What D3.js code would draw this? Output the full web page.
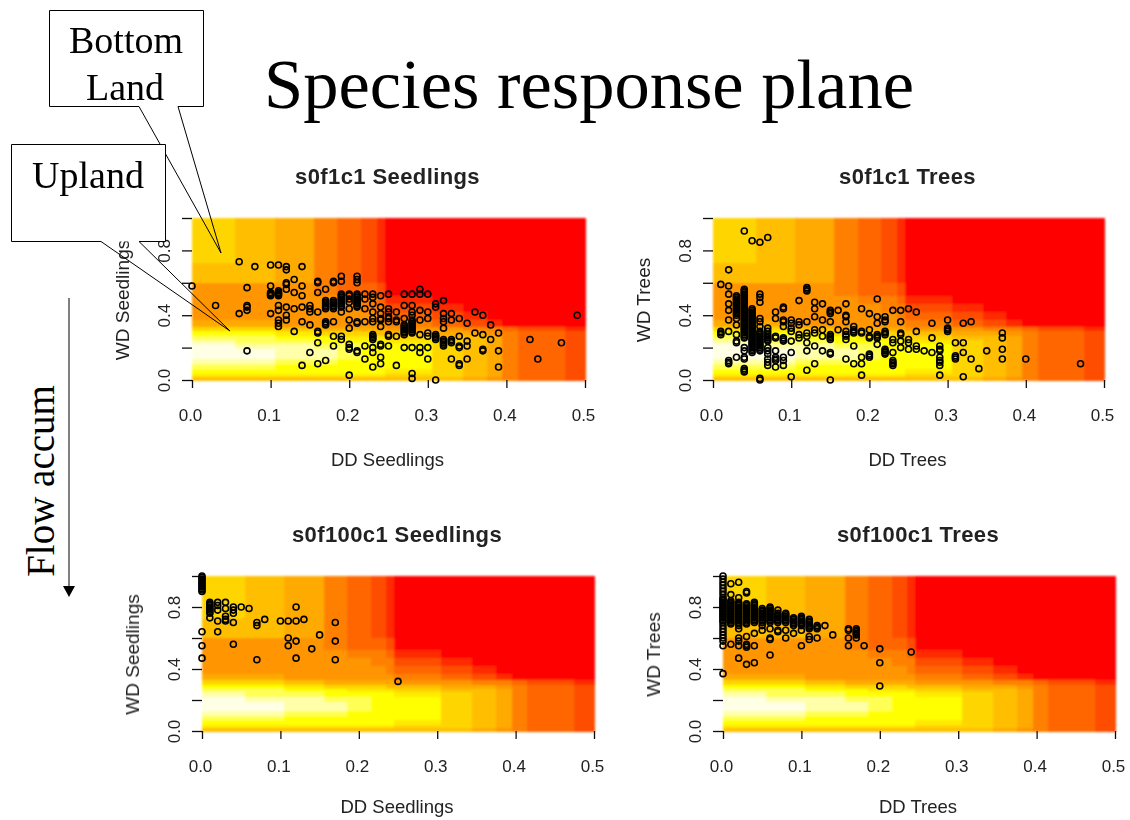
<!DOCTYPE html>
<html>
<head>
<meta charset="utf-8">
<script src="https://d3js.org/d3.v7.min.js"></script>
<style>
    html, body { margin: 0; background: #fff; }
    svg { display: block; }
    text { font-family: "Liberation Sans", Arial, sans-serif; fill: #222; }
    .serif { font-family: "Liberation Serif", "Times New Roman", serif; fill: #000; }
</style>
</head>
<body>
<div id="main"></div>
<script>
    // points, grouped as [DD, [WD, WD, ...]]
    var seedlingsF1 = [
        [0, [.58]], [.03, [.46]], [.06, [.73, .41]], [.07, [.57, .46, .45, .43, .18]], [.08, [.70]],
        [.10, [.71, .58, .54, .535, .53, .525, .52, .41]], [.11, [.71, .55, .54, .535, .53, .525, .52, .46, .43, .37, .35, .33]],
        [.12, [.70, .68, .60, .59, .56, .45, .40, .37]], [.13, [.62, .54, .44, .30]],
        [.14, [.70, .58, .52, .45, .36, .09]], [.15, [.46, .44, .42, .34, .17]],
        [.16, [.61, .60, .54, .42, .30, .29, .23, .10]], [.17, [.56, .49, .48, .47, .46, .45, .44, .36, .35, .34, .12]],
        [.18, [.61, .60, .49, .48, .47, .46, .45, .44, .36, .27, .21]],
        [.19, [.64, .61, .53, .52, .51, .50, .49, .48, .47, .46, .45, .42, .27, .25]],
        [.20, [.53, .52, .50, .48, .44, .37, .32, .22, .20, .19, .03]],
        [.21, [.64, .62, .60, .53, .52, .51, .50, .49, .48, .47, .46, .45, .36, .35, .18, .17]],
        [.22, [.53, .50, .44, .36, .21, .13]],
        [.23, [.53, .51, .47, .42, .38, .36, .28, .27, .26, .25, .20, .17, .08]],
        [.24, [.52, .45, .41, .38, .37, .33, .22, .21, .14, .10]],
        [.25, [.53, .44, .42, .39, .38, .36, .28, .27, .21]], [.26, [.42, .37, .36, .27, .09]],
        [.27, [.53, .46, .38, .34, .33, .32, .31, .30, .29, .28, .20]],
        [.28, [.53, .46, .42, .40, .37, .36, .35, .34, .33, .32, .31, .30, .29, .20, .04, .01]],
        [.29, [.56, .53, .43, .37, .28, .20, .17]], [.30, [.53, .42, .38, .29, .27, .20, .13]],
        [.31, [.47, .45, .28, .27, .26, .25, 0]], [.32, [.49, .41, .38, .36, .32, .25, .24, .23, .22, .21]],
        [.33, [.41, .37, .25, .24, .23, .13]], [.34, [.38, .27, .21, .20, .10, .09]],
        [.35, [.35, .24, .21, .13]], [.36, [.42, .29]], [.37, [.40, .28, .19, .18]], [.38, [.34, .25]],
        [.39, [.29, .18, .08]], [.43, [.25]], [.44, [.13]], [.47, [.23]], [.49, [.40]]
    ];
    var treesF1 = [
        [.01, [.59, .30, .29, .28]], [.02, [.68, .58, .53, .47, .43, .37, .30, .12, .11, .10]],
        [.03, [.52, .51, .50, .49, .48, .47, .46, .45, .44, .43, .42, .41, .40, .38, .34, .28, .24, .23, .14]],
        [.04, [.92, .56, .55, .54, .53, .52, .51, .50, .49, .48, .47, .46, .45, .44, .43, .42, .41, .40, .39, .38, .37, .36, .35, .34, .33, .32, .31, .30, .29, .28, .27, .26, .20, .18, .14, .13, .07, .06, .05]],
        [.05, [.86, .44, .43, .42, .41, .40, .39, .38, .37, .36, .35, .34, .33, .32, .31, .30, .29, .28, .27, .26, .25, .24, .23, .22, .21, .20, .19, .18, .17]],
        [.06, [.85, .53, .51, .48, .38, .36, .33, .30, .29, .28, .27, .26, .25, .24, .23, .22, .21, .20, .19, .18, .01, 0]],
        [.07, [.88, .32, .30, .28, .27, .26, .25, .24, .20, .18, .16, .13, .11, .09]],
        [.08, [.42, .38, .27, .26, .18, .14, .13, .12, .08]],
        [.09, [.45, .44, .37, .36, .33, .26, .25, .24, .14, .12, .09]],
        [.10, [.37, .35, .32, .30, .24, .17, .02]], [.11, [.49, .36, .34, .28, .26]],
        [.12, [.57, .56, .55, .36, .29, .27, .23, .18, .06]], [.13, [.48, .44, .39, .31, .29, .21, .10]],
        [.14, [.47, .37, .31, .27, .18]], [.15, [.43, .42, .41, .36, .28, .27, .26, .25, .17, .16, 0]],
        [.16, [.43, .31]], [.17, [.47, .40, .39, .36, .30, .28, .27, .25, .13]],
        [.18, [.33, .31, .30, .29, .21, .10]], [.19, [.44, .30, .29, .14, .10, .03]],
        [.20, [.41, .31, .27, .26, .16, .15, .14]], [.21, [.50, .39, .35, .28, .27, .26, .22]],
        [.22, [.39, .37, .36, .30, .29, .28, .19, .18, .17, .16]],
        [.23, [.43, .25, .23, .17, .12, .11, .10, .09]], [.24, [.43, .36, .29, .28, .24, .20]],
        [.25, [.44, .25, .23, .19]], [.26, [.42, .30, .21, .19]], [.27, [.18]], [.28, [.35, .26, .17]],
        [.29, [.21, .19, .18, .14, .12, .11, .09, .03]], [.30, [.37, .32, .31, .30]],
        [.31, [.23, .15, .14, .13]], [.32, [.35, .23, .17, .02]], [.33, [.36, .13]], [.34, [.07]],
        [.35, [.18]], [.37, [.29, .26, .19, .13]], [.40, [.13]], [.47, [.10]]
    ];
    var seedlingsF100 = [
        [0, [1, .99, .98, .97, .96, .95, .94, .93, .92, .91, .90, .64, .55, .47]],
        [.01, [.83, .82, .81, .80, .79, .78, .77, .76, .73]], [.02, [.83, .81, .78, .71, .64]],
        [.03, [.83, .79, .74, .72, .71]], [.04, [.80, .78, .76, .70, .56]], [.05, [.80]], [.06, [.79]],
        [.07, [.70, .68, .46]], [.08, [.72]], [.10, [.71]], [.11, [.71, .60, .55]],
        [.12, [.80, .71, .58, .47]], [.13, [.72]], [.14, [.53]], [.15, [.62]], [.17, [.70, .58, .46]], [.25, [.32]]
    ];
    var treesF100 = [
        [0, [1, .98, .96, .94, .92, .90, .88, .86, .85, .84, .83, .82, .81, .80, .79, .78, .77, .76, .75, .74, .73, .72, .71, .70, .68, .66, .64, .62, .60, .58, .55, .37]],
        [.01, [.95, .88, .84, .83, .82, .81, .80, .79, .78, .77, .76, .75, .74, .73, .72, .71, .70, .69, .56]],
        [.02, [.96, .86, .83, .82, .81, .80, .79, .78, .77, .76, .75, .74, .73, .72, .71, .70, .69, .68, .66, .60, .58, .55, .47]],
        [.03, [.90, .89, .82, .81, .80, .79, .78, .77, .76, .75, .74, .73, .72, .71, .70, .69, .61, .56, .55, .54, .43]],
        [.04, [.83, .82, .81, .80, .79, .78, .77, .76, .75, .74, .73, .72, .71, .70, .63, .55, .44]],
        [.05, [.79, .78, .77, .76, .75, .74, .73, .72, .71, .70, .68, .65]],
        [.06, [.80, .79, .78, .77, .76, .75, .74, .73, .72, .71, .70, .66, .60, .59, .49]],
        [.07, [.78, .76, .75, .74, .73, .72, .71, .70, .65, .64]], [.08, [.76, .75, .74, .73, .72, .71, .70, .65, .60]],
        [.09, [.73, .72, .71, .70, .69, .68, .63]], [.10, [.74, .73, .72, .71, .70, .69, .68, .65, .55]],
        [.11, [.72, .71, .70, .69, .68, .67, .66, .61, .59]], [.12, [.68, .67, .66, .60]], [.13, [.68]], [.14, [.62]],
        [.16, [.66, .65, .60, .55]], [.17, [.66, .65, .64, .63, .62, .60]], [.18, [.55]],
        [.20, [.53, .44, .29]], [.24, [.51]]
    ];

    // the response surface behind every panel, read as blocks of colour levels
    var heatColors = ["#FF0000", "#FF2B00", "#FF4D00", "#FF6600", "#FF8000", "#FF9500", "#FFAA00",
        "#FFBF00", "#FFD500", "#FFEA00", "#FFFF00", "#FFFF55", "#FFFFAA", "#FFFFE6"];
    var heatXBreaks = [0, .055, .105, .155, .185, .215, .235, .245, .305, .345, .375, .395, .415, .475, .5];
    var heatYBreaks = [1, .72, .60, .52, .47, .42, .37, .33, .30, .27, .25, .22, .19, .13, .10, .07, .04, .02, 0];
    var heatLevels = [
        [8, 7, 6, 4, 3, 2, 1, 0, 0, 0, 0, 0, 0, 0],
        [7, 7, 6, 4, 3, 2, 1, 0, 0, 0, 0, 0, 0, 0],
        [5, 5, 5, 4, 3, 3, 2, 0, 0, 0, 0, 0, 0, 0],
        [5, 5, 5, 5, 4, 4, 3, 1, 0, 0, 0, 0, 0, 0],
        [5, 5, 5, 5, 5, 4, 4, 2, 1, 0, 0, 0, 0, 0],
        [5, 5, 5, 5, 5, 5, 4, 3, 2, 1, 0, 0, 0, 0],
        [6, 6, 5, 5, 5, 5, 5, 4, 3, 2, 1, 0, 0, 0],
        [8, 8, 7, 6, 6, 6, 6, 5, 5, 4, 4, 3, 2, 1],
        [10, 10, 9, 8, 8, 8, 7, 7, 6, 6, 5, 4, 3, 2],
        [11, 11, 10, 10, 9, 9, 9, 8, 7, 7, 6, 4, 3, 2],
        [12, 11, 11, 10, 10, 10, 10, 9, 8, 7, 6, 4, 3, 2],
        [13, 12, 12, 11, 11, 10, 10, 10, 8, 7, 6, 4, 3, 2],
        [13, 13, 12, 12, 11, 10, 10, 10, 8, 7, 6, 4, 3, 2],
        [12, 12, 11, 11, 10, 10, 10, 10, 8, 7, 6, 4, 3, 2],
        [11, 11, 10, 10, 10, 10, 10, 10, 8, 7, 6, 4, 3, 2],
        [10, 10, 10, 10, 10, 10, 10, 9, 8, 7, 6, 4, 3, 2],
        [9, 9, 9, 9, 9, 9, 9, 8, 8, 7, 6, 4, 3, 2],
        [7, 7, 7, 7, 7, 7, 7, 7, 7, 6, 5, 4, 3, 2]
    ];

    var xTicks = [0, .1, .2, .3, .4, .5];
    var yTicks = [0, .2, .4, .6, .8, 1];
    var yLabelled = [0, .4, .8];

    var panels = [
        { title: "s0f1c1 Seedlings", xLabel: "DD Seedlings", yLabel: "WD Seedlings", points: seedlingsF1, left: 192, right: 585, top: 218, bottom: 380, xLabelGap: 86 },
        { title: "s0f1c1 Trees", xLabel: "DD Trees", yLabel: "WD Trees", points: treesF1, left: 713, right: 1104, top: 218, bottom: 380, xLabelGap: 86 },
        { title: "s0f100c1 Seedlings", xLabel: "DD Seedlings", yLabel: "WD Seedlings", points: seedlingsF100, left: 202, right: 594, top: 576, bottom: 731, xLabelGap: 82 },
        { title: "s0f100c1 Trees", xLabel: "DD Trees", yLabel: "WD Trees", points: treesF100, left: 723, right: 1115, top: 576, bottom: 731, xLabelGap: 82 }
    ];

    var svg = d3.select("#main")
        .append("svg")
        .attr("width", 1130)
        .attr("height", 820);

    // the source is a low res capture, so soften the plots a little
    var defs = svg.append("defs");
    defs.append("filter").attr("id", "soft")
        .attr("x", "-5%").attr("y", "-5%").attr("width", "110%").attr("height", "110%")
        .append("feGaussianBlur").attr("stdDeviation", 0.55);
    defs.append("filter").attr("id", "softer")
        .attr("x", "-2%").attr("y", "-2%").attr("width", "104%").attr("height", "104%")
        .append("feGaussianBlur").attr("stdDeviation", 1);

    panels.forEach(function (p) {
        var x = d3.scaleLinear().domain([0, .5]).range([p.left, p.right]);
        var y = d3.scaleLinear().domain([0, 1]).range([p.bottom, p.top]);
        var g = svg.append("g").attr("filter", "url(#soft)");

        // heat blocks
        var cells = [];
        heatLevels.forEach(function (row, r) {
            row.forEach(function (level, c) {
                cells.push({ r: r, c: c, level: level });
            });
        });
        svg.insert("g", "g").attr("filter", "url(#softer)")
            .attr("shape-rendering", "crispEdges")
            .selectAll("rect")
            .data(cells)
            .enter()
            .append("rect")
            .attr("x", function (d) { return x(heatXBreaks[d.c]); })
            .attr("y", function (d) { return y(heatYBreaks[d.r]); })
            .attr("width", function (d) { return x(heatXBreaks[d.c + 1]) - x(heatXBreaks[d.c]) + .5; })
            .attr("height", function (d) { return y(heatYBreaks[d.r + 1]) - y(heatYBreaks[d.r]) + .5; })
            .style("fill", function (d) { return heatColors[d.level]; });

        // axes, R style: no domain line showing, y labels turned and thinned out
        var xAxis = g.append("g")
            .attr("transform", "translate(0," + p.bottom + ")")
            .call(d3.axisBottom(x).tickValues(xTicks).tickSize(8).tickFormat(d3.format(".1f")));
        xAxis.select(".domain").remove();
        xAxis.selectAll("text")
            .attr("dy", 0).attr("y", 41).attr("dx", -2)
            .style("font-size", "17px");

        var yAxis = g.append("g")
            .attr("transform", "translate(" + p.left + ",0)")
            .call(d3.axisLeft(y).tickValues(yTicks).tickSize(10).tickFormat(function (d) {
                return yLabelled.indexOf(d) >= 0 ? d3.format(".1f")(d) : "";
            }));
        yAxis.select(".domain").remove();
        yAxis.selectAll("text")
            .attr("x", null).attr("dy", 0)
            .attr("transform", "translate(-22,0) rotate(-90)")
            .style("text-anchor", "middle")
            .style("font-size", "17px");
        g.selectAll(".tick line").attr("stroke", "#111").attr("stroke-width", 1.3);

        // points
        g.append("g")
            .selectAll("circle")
            .data(p.points.flatMap(function (col) {
                return col[1].map(function (wd) { return { dd: col[0], wd: wd }; });
            }))
            .enter()
            .append("circle")
            .attr("cx", function (d) { return x(d.dd); })
            .attr("cy", function (d) { return y(d.wd); })
            .attr("r", 3)
            .style("fill", "none")
            .style("stroke", "#000")
            .style("stroke-width", 1.6);

        // labels
        var midX = (p.left + p.right) / 2;
        g.append("text")
            .attr("x", midX - 1).attr("y", p.top - 34)
            .style("text-anchor", "middle")
            .style("font-weight", "bold")
            .style("font-size", "22px")
            .style("letter-spacing", "0.4px")
            .text(p.title);
        g.append("text")
            .attr("x", midX - 1).attr("y", p.bottom + p.xLabelGap)
            .style("text-anchor", "middle")
            .style("font-size", "18.5px")
            .text(p.xLabel);
        g.append("text")
            .attr("transform", "translate(" + (p.left - 63) + "," + ((p.top + p.bottom) / 2 + 1) + ") rotate(-90)")
            .style("text-anchor", "middle")
            .style("font-size", "19px")
            .text(p.yLabel);
    });

    // slide title and call-outs on top of the plots
    svg.append("text").attr("class", "serif")
        .attr("x", 264).attr("y", 108)
        .style("font-size", "70.5px")
        .text("Species response plane");

    function callout(left, top, right, bottom, gapA, gapB, tipX, tipY) {
        svg.append("rect")
            .attr("x", left).attr("y", top)
            .attr("width", right - left).attr("height", bottom - top)
            .style("fill", "#fff");
        svg.append("path")
            .attr("d", "M" + gapA + "," + bottom + "L" + left + "," + bottom + "L" + left + "," + top +
                "L" + right + "," + top + "L" + right + "," + bottom + "L" + gapB + "," + bottom +
                "L" + tipX + "," + tipY + "L" + gapA + "," + bottom + "Z")
            .style("fill", "none")
            .style("stroke", "#000")
            .style("stroke-width", 1);
    }
    callout(49.5, 10.5, 203.5, 106.5, 139, 178, 221, 253);
    callout(11.5, 144.5, 165.5, 241.5, 101, 139, 230, 331);

    [["Bottom", 126, 53], ["Land", 125, 100], ["Upland", 88, 188]].forEach(function (t) {
        svg.append("text").attr("class", "serif")
            .attr("x", t[1]).attr("y", t[2])
            .style("text-anchor", "middle")
            .style("font-size", "38px")
            .text(t[0]);
    });

    svg.append("text").attr("class", "serif")
        .attr("transform", "translate(54,481) rotate(-90)")
        .style("text-anchor", "middle")
        .style("font-size", "39px")
        .text("Flow accum");

    svg.append("line")
        .attr("x1", 69).attr("y1", 298).attr("x2", 69).attr("y2", 588)
        .style("stroke", "#000").style("stroke-width", 1);
    svg.append("path")
        .attr("d", "M63,586L75,586L69,597Z")
        .style("fill", "#000");
</script>
</body>
</html>
